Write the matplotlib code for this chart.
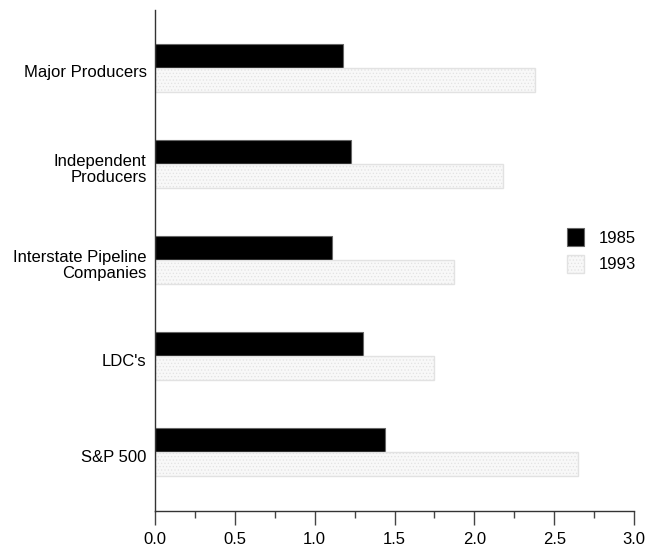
import matplotlib.pyplot as plt
import numpy as np

plt.rcParams['font.family'] = ['Liberation Sans', 'DejaVu Sans']
plt.rcParams['hatch.linewidth'] = 0.5

categories = ["Major Producers", "Independent\nProducers", "Interstate Pipeline\nCompanies", "LDC's", "S&P 500"]
v1985 = [1.18, 1.23, 1.11, 1.30, 1.44]
v1993 = [2.38, 2.18, 1.87, 1.75, 2.65]

y = np.arange(len(categories))[::-1]
h = 0.25

fig = plt.figure(figsize=(6.47, 5.48), dpi=100)
ax = fig.add_axes([0.2396, 0.0675, 0.7404, 0.9143])

ax.barh(y + h / 2, v1985, height=h, color='black', edgecolor='#666666', linewidth=0.8, label='1985')
ax.barh(y - h / 2, v1993, height=h, color='#f8f8f8', edgecolor='#e2e2e2', hatch='.....',
        linewidth=1.0, label='1993')

ax.set_xlim(0, 3.0)
ax.set_ylim(-0.615, 4.6)
ax.set_xticks(np.arange(0, 3.01, 0.5))
ax.set_xticklabels([f"{t:.1f}" for t in np.arange(0, 3.01, 0.5)])
ax.set_xticks(np.arange(0.25, 3.0, 0.5), minor=True)
ax.tick_params(axis='x', which='major', length=10, width=1, color='#444444', labelsize=12, pad=5)
ax.tick_params(axis='x', which='minor', length=5, width=1, color='#444444')

ax.set_yticks(y - 0.04)
ax.set_yticklabels(categories, fontsize=12, linespacing=1.1)
ax.tick_params(axis='y', length=0, pad=6)

for s in ['top', 'right']:
    ax.spines[s].set_visible(False)
for s in ['left', 'bottom']:
    ax.spines[s].set_color('#333333')
    ax.spines[s].set_linewidth(1)

ax.legend(loc='center left', bbox_to_anchor=(0.86, 0.52), frameon=False, fontsize=12,
          handlelength=1.0, handleheight=1.3, borderpad=0, borderaxespad=0, handletextpad=0.9,
          labelspacing=0.5)

fig.savefig("out.png", dpi=100)
